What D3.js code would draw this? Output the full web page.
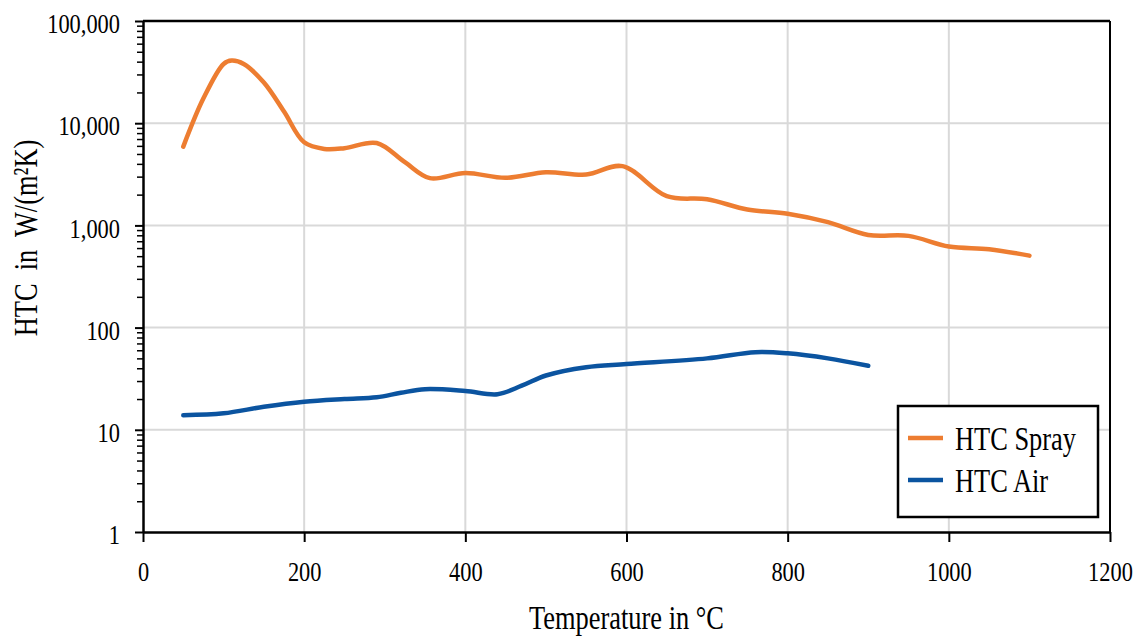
<!DOCTYPE html>
<html>
<head>
<meta charset="utf-8">
<script src="https://cdn.jsdelivr.net/npm/d3@7"></script>
<style>
  html, body { margin: 0; padding: 0; background: #fff; }
  svg { display: block; }
  text { font-family: "Liberation Serif", "Times New Roman", serif; fill: #000; }
</style>
</head>
<body>
<svg id="chart" width="1139" height="637"></svg>
<script>
// ---- data ----
const sprayTemps = [50, 75, 100, 110, 125, 150, 175, 200, 225, 250, 290, 325, 356, 400, 450, 500, 550, 595, 650, 700, 750, 800, 850, 900, 950, 1000, 1050, 1100];
const sprayHTC   = [5900, 17500, 38000, 41000, 38000, 25000, 13000, 6500, 5600, 5700, 6400, 4150, 2900, 3260, 2920, 3310, 3140, 3800, 1930, 1800, 1430, 1300, 1075, 807, 790, 621, 585, 506];
const airTemps = [50, 100, 150, 200, 250, 290, 320, 350, 400, 440, 470, 500, 550, 600, 700, 760, 800, 850, 900];
const airHTC   = [13.9, 14.5, 16.8, 18.8, 20, 20.8, 23, 25, 24, 22.3, 27, 34, 41, 44, 50, 57.5, 56, 50, 42.3];
const xTicks = [0, 200, 400, 600, 800, 1000, 1200];
const yTicks = [1, 10, 100, 1000, 10000, 100000];
const seriesNames = ["HTC Spray", "HTC Air"];
const seriesColors = ["#ED7D31", "#0B54A0"];
const xTitle = "Temperature in °C";
const yTitle = "HTC  in  W/(m²K)";

// ---- layout ----
const svg = d3.select("#chart");
const L = 143, R = 1110, T = 21, B = 532;
const SX = 0.8; // horizontal text compression seen in the reference

const x = d3.scaleLinear().domain([0, 1200]).range([L, R]);
const y = d3.scaleLog().domain([1, 100000]).range([B, T]);

// gridlines
const grid = svg.append("g");
grid.selectAll("line.v").data(xTicks.slice(1, -1)).join("line")
  .attr("x1", d => x(d)).attr("x2", d => x(d)).attr("y1", T).attr("y2", B)
  .attr("stroke", "#d9d9d9").attr("stroke-width", 2);
grid.selectAll("line.h").data(yTicks.slice(1, -1)).join("line")
  .attr("x1", L).attr("x2", R).attr("y1", d => y(d)).attr("y2", d => y(d))
  .attr("stroke", "#d9d9d9").attr("stroke-width", 2);

// frame (top and right)
svg.append("line").attr("x1", L).attr("x2", R).attr("y1", T).attr("y2", T)
  .attr("stroke", "#000").attr("stroke-width", 2.5);
svg.append("line").attr("x1", R).attr("x2", R).attr("y1", T).attr("y2", B)
  .attr("stroke", "#000").attr("stroke-width", 2);

// series
const line = d3.line().curve(d3.curveCatmullRom.alpha(0.5))
  .x(d => x(d[0])).y(d => y(d[1]));
const series = [
  d3.zip(sprayTemps, sprayHTC),
  d3.zip(airTemps, airHTC)
];
svg.append("g").selectAll("path").data(series).join("path")
  .attr("d", line)
  .attr("fill", "none")
  .attr("stroke", (d, i) => seriesColors[i])
  .attr("stroke-width", 4.5)
  .attr("stroke-linecap", "round")
  .attr("stroke-linejoin", "round");

// y minor ticks
const minor = [];
for (let e = 0; e < 5; e++) for (let m = 2; m <= 9; m++) minor.push(m * Math.pow(10, e));
const yMinor = svg.append("g").attr("transform", `translate(${L},0)`)
  .call(d3.axisLeft(y).tickValues(minor).tickSize(6).tickFormat(""));
yMinor.select(".domain").remove();
yMinor.selectAll("line").attr("stroke", "#000").attr("stroke-width", 1.5);

// y axis major
const yAxis = svg.append("g").attr("transform", `translate(${L},0)`)
  .call(d3.axisLeft(y).tickValues(yTicks).tickSize(8).tickSizeOuter(0).tickFormat(d3.format(",")));
yAxis.select(".domain").attr("stroke", "#000").attr("stroke-width", 2.5);
yAxis.selectAll(".tick line").attr("stroke", "#000").attr("stroke-width", 2);
yAxis.selectAll(".tick text")
  .attr("font-size", 28)
  .attr("font-family", "Liberation Serif, Times New Roman, serif")
  .attr("text-anchor", "end")
  .attr("x", -23 / SX).attr("dy", "0.42em")
  .attr("transform", `scale(${SX},1)`);

// x axis
const xAxis = svg.append("g").attr("transform", `translate(0,${B})`)
  .call(d3.axisBottom(x).tickValues(xTicks).tickSize(10).tickSizeOuter(0).tickFormat(d3.format("d")));
xAxis.select(".domain").attr("stroke", "#000").attr("stroke-width", 2.5);
xAxis.selectAll(".tick line").attr("stroke", "#000").attr("stroke-width", 2);
xAxis.selectAll(".tick text")
  .attr("font-size", 28)
  .attr("font-family", "Liberation Serif, Times New Roman, serif")
  .attr("y", 49).attr("dy", 0)
  .attr("transform", `scale(${SX},1)`);

// axis titles
svg.append("text")
  .attr("transform", `translate(${(L + R) / 2},629) scale(${SX},1)`)
  .attr("text-anchor", "middle").attr("font-size", 33)
  .text(xTitle);
svg.append("text")
  .attr("transform", `translate(37,238) rotate(-90) scale(${SX},1)`)
  .attr("text-anchor", "middle").attr("font-size", 33)
  .style("white-space", "pre")
  .text(yTitle);

// legend
const lg = svg.append("g").attr("transform", "translate(898,406)");
lg.append("rect").attr("width", 200).attr("height", 111)
  .attr("fill", "#fff").attr("stroke", "#000").attr("stroke-width", 2.5);
const rows = lg.selectAll("g.row").data(seriesNames).join("g")
  .attr("transform", (d, i) => `translate(0,${32 + i * 42})`);
rows.append("line").attr("x1", 10).attr("x2", 45).attr("y1", 0).attr("y2", 0)
  .attr("stroke", (d, i) => seriesColors[i]).attr("stroke-width", 4.5);
rows.append("text")
  .attr("transform", `translate(57,11.5) scale(${SX},1)`)
  .attr("font-size", 33)
  .text(d => d);
</script>
</body>
</html>
